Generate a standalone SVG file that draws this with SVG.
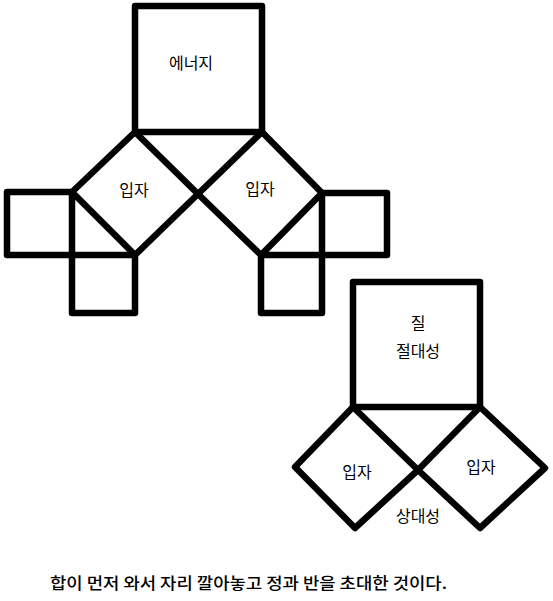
<svg xmlns="http://www.w3.org/2000/svg" width="553" height="601" viewBox="0 0 553 601">
<style>
.s{fill:none;stroke:#000;stroke-width:6.5;stroke-linejoin:round;stroke-linecap:round}
.t{font-family:"Noto Sans CJK KR",sans-serif;font-size:16px;fill:#000;text-anchor:middle;dominant-baseline:central}
.c{font-family:"Noto Sans CJK KR",sans-serif;font-size:16px;font-weight:500;fill:#000;dominant-baseline:central}
</style>
<rect width="553" height="601" fill="#fff"/>
<g id="energy"><rect class="s" x="135" y="6" width="127" height="126"/><text class="t" x="191" y="62">에너지</text></g>
<g id="particle-left"><polygon class="s" points="135,132 198,194 135,255 72,192"/><text class="t" x="134" y="189">입자</text></g>
<g id="particle-right"><polygon class="s" points="262,132 322,193 261,255 198,194"/><text class="t" x="260" y="188">입자</text></g>
<g id="sq-left-a"><rect class="s" x="7" y="192" width="65" height="63"/></g>
<g id="sq-left-b"><rect class="s" x="72" y="255" width="63" height="58"/></g>
<g id="sq-right-a"><rect class="s" x="322" y="193" width="65" height="62"/></g>
<g id="sq-right-b"><rect class="s" x="261" y="255" width="61" height="58"/></g>
<g id="quality"><rect class="s" x="353" y="282" width="127" height="125"/><text class="t" x="418" y="322">질</text><text class="t" x="418" y="350">절대성</text></g>
<g id="particle-b-left"><polygon class="s" points="353,407 418,470 355,528 295,467"/><text class="t" x="357" y="471">입자</text></g>
<g id="particle-b-right"><polygon class="s" points="480,407 545,468 480,528 418,470"/><text class="t" x="481" y="466">입자</text></g>
<text class="t" x="418" y="515">상대성</text>
<g id="connectors"></g>
<text class="c" x="50" y="582" textLength="397" lengthAdjust="spacingAndGlyphs">합이 먼저 와서 자리 깔아놓고 정과 반을 초대한 것이다.</text>
</svg>
